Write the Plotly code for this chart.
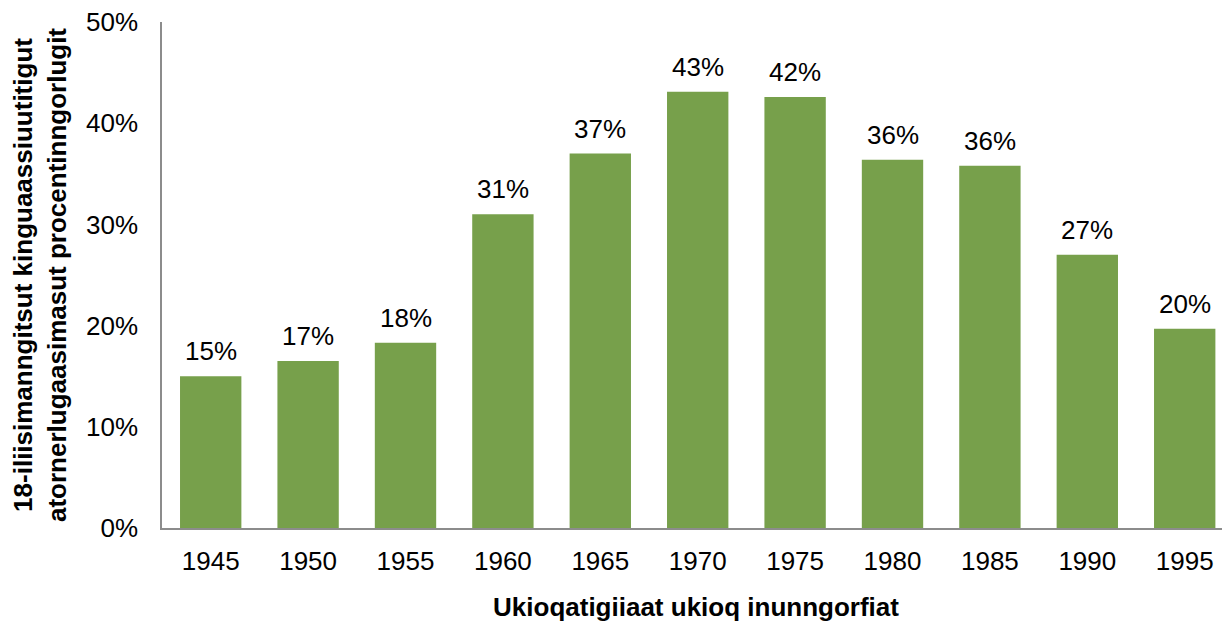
import plotly.graph_objects as go

years = ["1945", "1950", "1955", "1960", "1965", "1970", "1975", "1980", "1985", "1990", "1995"]
values = [0.150, 0.165, 0.183, 0.310, 0.370, 0.431, 0.426, 0.364, 0.358, 0.270, 0.197]
labels = ["15%", "17%", "18%", "31%", "37%", "43%", "42%", "36%", "36%", "27%", "20%"]
y_ticks = [0, 0.1, 0.2, 0.3, 0.4, 0.5]
y_ticklabels = ["0%", "10%", "20%", "30%", "40%", "50%"]

FONT = "Liberation Sans, Arial, sans-serif"
FS = 26

fig = go.Figure(go.Bar(
    x=years, y=values,
    marker=dict(color="#77A04B", line=dict(width=0)),
    hoverinfo="x+y",
))

for i, (v, lab) in enumerate(zip(values, labels)):
    fig.add_annotation(x=i, y=v, xref="x", yref="y", text=lab, showarrow=False,
                       yanchor="middle", xanchor="center", yshift=25,
                       font=dict(family=FONT, size=FS, color="#000000"))

fig.update_layout(
    width=1222, height=614,
    margin=dict(l=154, r=0, t=14, b=94, autoexpand=False),
    paper_bgcolor="white", plot_bgcolor="white",
    bargap=0.37, showlegend=False,
    font=dict(family=FONT, size=FS, color="#000000"),
    xaxis=dict(
        type="category",
        range=[-0.5, 10.465], automargin=False,
        showline=True, linecolor="#8C8C8C", linewidth=1.5,
        showgrid=False, ticks="", ticklabelstandoff=9,
        ticklabeloverflow="allow",
        tickfont=dict(family=FONT, size=FS),
        title=dict(text="<b>Ukioqatigiiaat ukioq inunngorfiat</b>",
                   font=dict(family=FONT, size=FS), standoff=23),
    ),
    yaxis=dict(
        range=[0, 0.5], tickvals=y_ticks, ticktext=y_ticklabels, automargin=False,
        showline=True, linecolor="#8C8C8C", linewidth=1.5,
        showgrid=False, zeroline=False, ticks="", ticklabelstandoff=17,
        ticklabeloverflow="allow",
        tickfont=dict(family=FONT, size=FS),
        title=dict(text="<b>18-iliisimanngitsut kinguaassiuutitigut<br>atornerlugaasimasut procentinngorlugit</b>",
                   font=dict(family=FONT, size=26), standoff=24),
    ),
)

fig.write_html("out.html")
